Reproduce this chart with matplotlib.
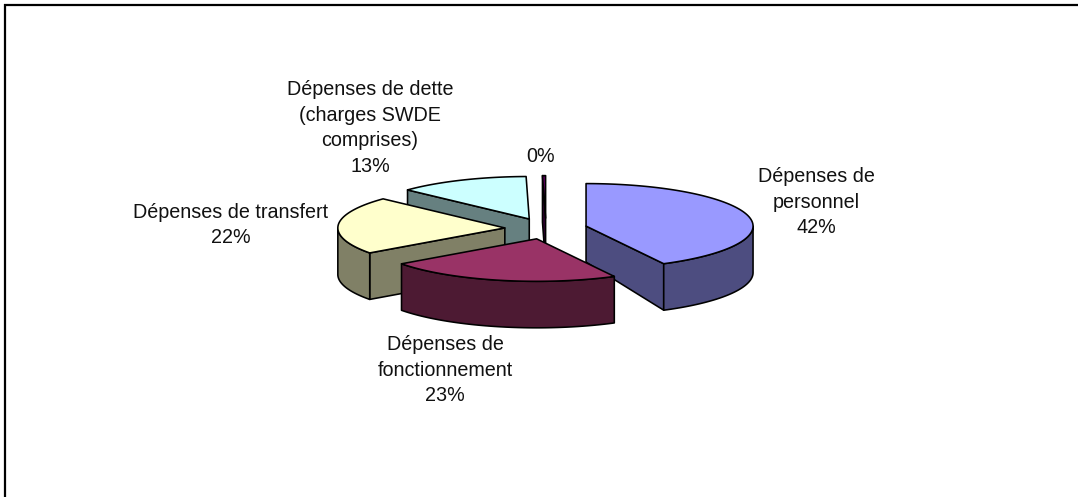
import numpy as np
import matplotlib
matplotlib.use("Agg")
import matplotlib.pyplot as plt
from matplotlib.patches import Polygon

plt.rcParams['font.family'] = ['Liberation Sans', 'DejaVu Sans']

# ---- data ----
categories = ["Dépenses de\npersonnel", "Dépenses de\nfonctionnement", "Dépenses de transfert",
              "Dépenses de dette\n(charges SWDE\ncomprises)", ""]
values = [42.3, 22.7, 22.0, 12.7, 0.3]
top_colors = ["#9999FF", "#993366", "#FFFFCC", "#CCFFFF", "#660066"]
side_colors = ["#4D4D80", "#4D1A33", "#808066", "#668080", "#330033"]
label_pos = [(816, 202), (445, 370), (231, 225), (370, 128), (541, 156)]
draw_order = [3, 4, 2, 0, 1]

# ---- layout ----
W, H = 1078, 497
CX, CY = 546, 228.6
A, B = 167, 42.5
DEPTH = 46.5
EXPLODE = 0.247
inner_depth = [36, DEPTH, DEPTH, DEPTH, DEPTH]

fig = plt.figure(figsize=(W / 100, H / 100), dpi=100, facecolor="white")
ax = fig.add_axes([0, 0, 1, 1])
ax.set_xlim(0, W)
ax.set_ylim(H, 0)
ax.axis("off")

LW = 1.15


def pt(c, th):
    th = np.asarray(th)
    return np.column_stack([c[0] + A * np.sin(th), c[1] - B * np.cos(th)])


edges = np.cumsum([0] + values) / sum(values) * 2 * np.pi
for i in draw_order:
    t0, t1 = edges[i], edges[i + 1]
    mid = (t0 + t1) / 2
    c = (CX + EXPLODE * A * np.sin(mid), CY - EXPLODE * B * np.cos(mid))
    kw = dict(edgecolor="black", linewidth=LW, joinstyle="round")
    # radial walls facing the viewer
    for th, vis in ((t0, np.sin(t0) < 0), (t1, np.sin(t1) > 0)):
        if vis:
            p = pt(c, [th])[0]
            wall = [c, p, (p[0], p[1] + DEPTH), (c[0], c[1] + inner_depth[i])]
            ax.add_patch(Polygon(wall, closed=True, facecolor=side_colors[i], **kw))
    # outer wall, front part only
    lo, hi = max(t0, np.pi / 2), min(t1, 3 * np.pi / 2)
    if hi > lo:
        arc = pt(c, np.linspace(lo, hi, 80))
        low = arc + [0, DEPTH]
        ax.add_patch(Polygon(np.vstack([arc, low[::-1]]), closed=True,
                             facecolor=side_colors[i], **kw))
    # top face
    arc = pt(c, np.linspace(t0, t1, 120))
    ax.add_patch(Polygon(np.vstack([[c], arc]), closed=True, facecolor=top_colors[i], **kw))

# labels
for cat, val, (x, y) in zip(categories, values, label_pos):
    pct = f"{round(val)}%"
    s = f"{cat}\n{pct}" if cat else pct
    ax.text(x, y, s, ha="center", va="center", fontsize=14.2, color="#111111", linespacing=1.45)

# outer frame
ax.plot([5, 5], [H, 4], color="black", lw=1.6, solid_capstyle="butt")
ax.plot([4, W], [5, 5], color="black", lw=1.6, solid_capstyle="butt")

fig.savefig("out.png", dpi=100, facecolor="white")
